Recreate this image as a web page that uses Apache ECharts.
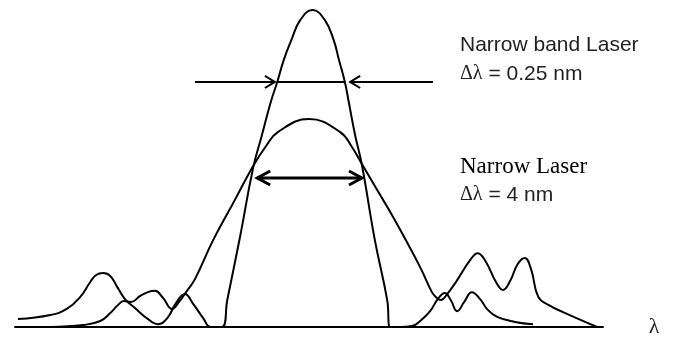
<!DOCTYPE html>
<html>
<head>
<meta charset="utf-8">
<script src="https://cdn.jsdelivr.net/npm/echarts@6/dist/echarts.min.js"></script>
<style>
  html, body { margin: 0; padding: 0; background: #fff; }
  #chart { width: 673px; height: 337px; }
</style>
</head>
<body>
<div id="chart"></div>
<script>
// Relative wavelength (0-100) against relative intensity (0-100).

// Narrow band laser: tall central line with small side lobes
const bandX = [0.5, 6.0, 8.8, 11.1, 12.8, 13.8, 15.0, 16.2, 17.3, 18.7, 20.4, 22.4, 24.3, 25.9, 27.4, 28.9, 30.3, 32.0, 33.3,
  35.2, 36.1, 38.3, 40.5, 42.0, 43.5, 44.6, 45.7, 47.0, 48.5, 50.6, 52.7, 54.2, 55.1, 56.1, 56.7,
  57.8, 59.0, 61.2, 63.3, 63.8,
  65.5, 67.5, 68.9, 70.6, 71.9, 73.1, 74.1, 75.2, 76.4, 77.7, 79.1, 80.4, 82.0, 85.0, 88.1];
const bandY = [2.5, 3.8, 5.7, 9.5, 14.2, 16.4, 17.0, 16.1, 12.9, 8.8, 6.0, 2.8, 0.9, 2.8, 7.6, 10.4, 7.3, 2.8, 0,
  0, 8.5, 28.7, 50.2, 60.6, 71.0, 77.3, 84.2, 90.5, 96.8, 100, 96.8, 90.5, 84.2, 77.3, 71.6,
  60.9, 51.1, 27.4, 8.5, 0,
  0, 0.3, 1.9, 5.0, 8.8, 10.7, 8.5, 5.0, 7.9, 11.0, 8.8, 5.4, 3.2, 1.6, 0.9];

// Narrow laser: broad central line with larger side lobes
const laserX = [6.0, 11.6, 14.5, 16.2, 17.5, 18.5, 19.7, 21.3, 22.6, 23.8, 25.2, 26.7, 27.9, 29.1, 30.6,
  33.7, 37.4, 40.5, 42.7, 44.7, 50.0, 55.3, 57.3, 59.0, 61.6, 64.3, 68.9, 70.9, 71.8, 72.4,
  73.5, 75.2, 77.4, 78.7, 80.1, 81.8, 83.0, 84.2, 85.5, 86.7, 87.8, 89.0, 90.8, 93.2, 99.0];
const laserY = [0, 0.6, 1.9, 4.4, 6.9, 8.2, 7.9, 9.8, 11.0, 11.4, 9.1, 5.7, 7.9, 11.0, 15.1,
  27.4, 40.1, 50.8, 57.1, 61.5, 65.6, 61.5, 56.8, 51.4, 43.2, 34.7, 18.9, 11.0, 9.1, 8.5,
  10.4, 14.8, 21.1, 23.3, 20.5, 14.2, 11.7, 14.5, 19.9, 21.8, 18.0, 9.5, 6.9, 4.7, 0];

// Linewidth markers
const bandMarkLevel = 77.3;
const bandEdges = [44.6, 56.1];       // where the marker meets the narrow band line
const bandArrowTips = [44.2, 57.0];
const bandArrowTails = [30.6, 71.1];
const laserMarkLevel = 47.0;
const laserArrowTips = [41.2, 59.0];

// Annotation texts
const bandTitle = 'Narrow band Laser';
const bandWidth = '0.25 nm';
const laserTitle = 'Narrow Laser';
const laserWidth = '4 nm';
const axisSymbol = 'λ';

const pairs = (xs, ys) => xs.map((x, i) => [x, ys[i]]);

// open chevron head, pointing in direction dir (+1 right, -1 left)
function chevron(tip, level, dir, dx, dy) {
  return { coords: [[tip - dir * dx, level + dy], [tip, level], [tip - dir * dx, level - dy]] };
}

const thinSegments = [
  { coords: [[bandArrowTails[0], bandMarkLevel], [bandArrowTips[0], bandMarkLevel]] },
  chevron(bandArrowTips[0], bandMarkLevel, 1, 1.7, 1.9),
  { coords: [[bandEdges[0], bandMarkLevel], [bandEdges[1], bandMarkLevel]] },
  { coords: [[bandArrowTips[1], bandMarkLevel], [bandArrowTails[1], bandMarkLevel]] },
  chevron(bandArrowTips[1], bandMarkLevel, -1, 1.7, 1.9)
];
const thickSegments = [
  { coords: [[laserArrowTips[0], laserMarkLevel], [laserArrowTips[1], laserMarkLevel]] },
  chevron(laserArrowTips[0], laserMarkLevel, -1, 2.2, 2.2),
  chevron(laserArrowTips[1], laserMarkLevel, 1, 2.2, 2.2)
];

const chart = echarts.init(document.getElementById('chart'), null, { renderer: 'canvas' });
const sans = '"Liberation Sans", Arial, sans-serif';
const serif = '"Liberation Serif", "Times New Roman", serif';

chart.setOption({
  animation: false,
  backgroundColor: '#fff',
  grid: { left: 15, right: 70, top: 10, bottom: 10 },
  xAxis: {
    type: 'value', min: 0, max: 100,
    axisLine: { show: true, onZero: false, lineStyle: { color: '#000', width: 2 } },
    axisTick: { show: false }, axisLabel: { show: false }, splitLine: { show: false }
  },
  yAxis: {
    type: 'value', min: 0, max: 100, show: false
  },
  series: [
    {
      name: bandTitle, type: 'line', data: pairs(bandX, bandY), smooth: 0.45,
      symbol: 'none', lineStyle: { color: '#000', width: 2 }, z: 3
    },
    {
      name: laserTitle, type: 'line', data: pairs(laserX, laserY), smooth: 0.45,
      symbol: 'none', lineStyle: { color: '#000', width: 2 }, z: 3
    },
    {
      type: 'lines', coordinateSystem: 'cartesian2d', polyline: true, silent: true,
      data: thinSegments, lineStyle: { color: '#000', width: 2, opacity: 1 }, z: 4
    },
    {
      type: 'lines', coordinateSystem: 'cartesian2d', polyline: true, silent: true,
      data: thickSegments, lineStyle: { color: '#000', width: 3, opacity: 1 }, z: 4
    }
  ],
  graphic: [
    {
      type: 'text', x: 460, y: 45,
      style: { text: bandTitle, font: '21px ' + sans, fill: '#222', verticalAlign: 'middle' }
    },
    {
      type: 'text', x: 460, y: 74,
      style: {
        text: '{g|Δλ} = ' + bandWidth, font: '21px ' + sans, fill: '#222', verticalAlign: 'middle',
        rich: { g: { font: '20px ' + serif, fill: '#222' } }
      }
    },
    {
      type: 'text', x: 460, y: 167,
      style: { text: laserTitle, font: '23px ' + serif, fill: '#000', verticalAlign: 'middle' }
    },
    {
      type: 'text', x: 460, y: 195,
      style: {
        text: '{g|Δλ} = ' + laserWidth, font: '21px ' + sans, fill: '#222', verticalAlign: 'middle',
        rich: { g: { font: '20px ' + serif, fill: '#222' } }
      }
    },
    {
      type: 'text', x: 654, y: 327,
      style: { text: axisSymbol, font: '22px ' + serif, fill: '#222', align: 'center', verticalAlign: 'middle' }
    }
  ]
});
</script>
</body>
</html>
